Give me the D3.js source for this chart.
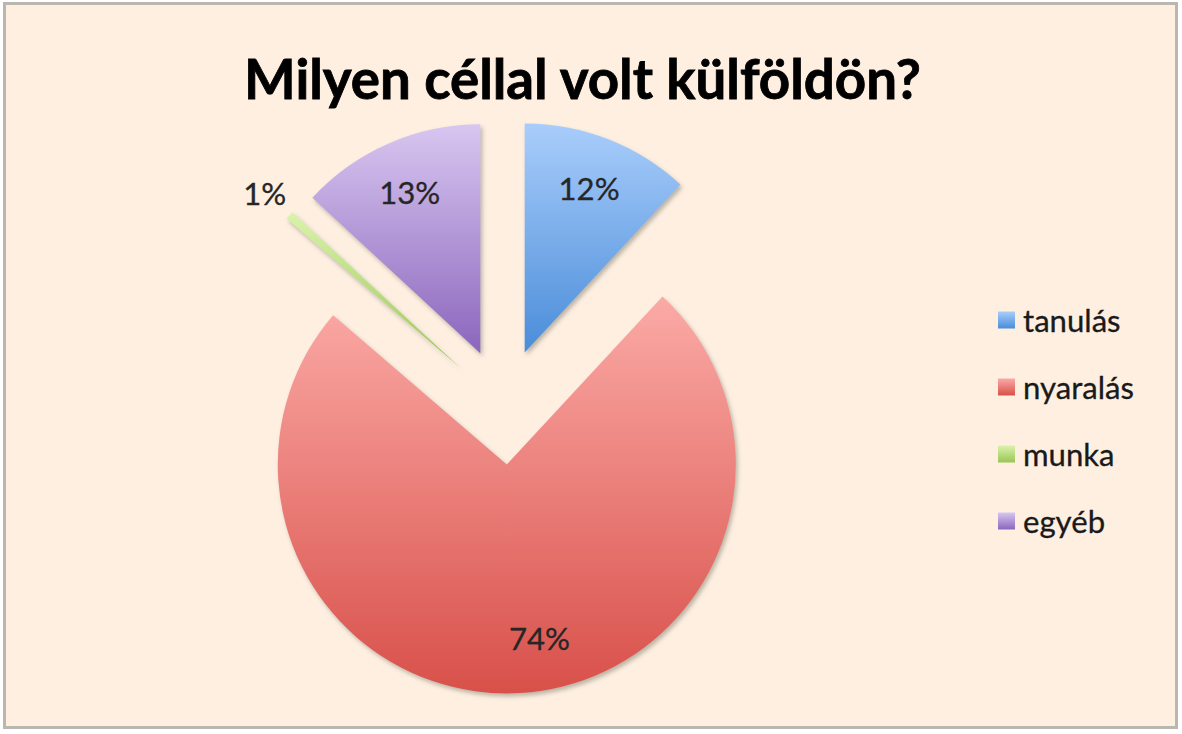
<!DOCTYPE html>
<html>
<head>
<meta charset="utf-8">
<script src="https://cdn.jsdelivr.net/npm/d3@7"></script>
<style>
  html, body { margin: 0; padding: 0; background: #ffffff; }
  svg { display: block; }
</style>
</head>
<body>
<svg id="chart" width="1182" height="734"></svg>
<script>
// ---- data ----
const title = "Milyen céllal volt külföldön?";
const categories = ["tanulás", "nyaralás", "munka", "egyéb"];
const values = [11.9, 74.4, 0.6, 13.1];
const gradTop = ["#A9CDFB", "#FBAAA6", "#DAF3AC", "#D8C6F0"];
const gradBottom = ["#4A8DD9", "#D8504A", "#98C654", "#8B66BD"];

// ---- layout ----
const W = 1182, H = 734;
const cx = 503.5, cy = 406.5, R = 229, explode = 58;
const font = "Lato, 'Open Sans', sans-serif";

const svg = d3.select("#chart");
const defs = svg.append("defs");

// background panel with border
svg.append("rect").attr("x", 0).attr("y", 0).attr("width", W).attr("height", H).attr("fill", "#ffffff");
svg.append("rect")
  .attr("x", 4.5).attr("y", 3.5).attr("width", 1172).attr("height", 724)
  .attr("fill", "#FEEFE1").attr("stroke", "#BAB6B0").attr("stroke-width", 3);

// drop shadow filter
const f = defs.append("filter").attr("id", "shadow")
  .attr("x", "-10%").attr("y", "-10%").attr("width", "130%").attr("height", "130%");
f.append("feDropShadow").attr("dx", 2).attr("dy", 3).attr("stdDeviation", 2)
  .attr("flood-color", "#6b6b5a").attr("flood-opacity", 0.45);

// gradients
categories.forEach((c, i) => {
  const g = defs.append("linearGradient").attr("id", "grad" + i)
    .attr("x1", 0).attr("y1", 0).attr("x2", 0).attr("y2", 1);
  g.append("stop").attr("offset", "0%").attr("stop-color", gradTop[i]);
  g.append("stop").attr("offset", "100%").attr("stop-color", gradBottom[i]);
});

// title, fitted to the reference width
const titleEl = svg.append("text")
  .attr("x", 582.5).attr("y", 99)
  .attr("text-anchor", "middle")
  .attr("font-family", font).attr("font-weight", 700)
  .attr("font-size", 50).attr("fill", "#000")
  .attr("stroke", "#000").attr("stroke-width", 0.8)
  .text(title);
{
  const w = titleEl.node().getComputedTextLength();
  titleEl.attr("font-size", 50 * 677 / w);
}

// pie
const total = d3.sum(values);
const pie = d3.pie().sort(null).value(d => d).startAngle(0).endAngle(2 * Math.PI);
const arcs = pie(values);
const arc = d3.arc().innerRadius(0).outerRadius(R);

const gPie = svg.append("g").attr("transform", `translate(${cx},${cy})`);
const slices = gPie.selectAll("g.slice").data(arcs).enter().append("g")
  .attr("class", "slice")
  .attr("transform", d => {
    const a = (d.startAngle + d.endAngle) / 2;
    return `translate(${explode * Math.sin(a)},${-explode * Math.cos(a)})`;
  });

slices.append("path")
  .attr("d", arc)
  .attr("fill", (d, i) => `url(#grad${i})`)
  .attr("filter", "url(#shadow)");

// data labels
const labelAngleNudge = [0, -0.13, 0, 0];
slices.append("text")
  .attr("class", "lbl")
  .attr("transform", (d, i) => {
    const a = (d.startAngle + d.endAngle) / 2 + labelAngleNudge[i];
    const small = (d.endAngle - d.startAngle) < 0.2;
    const r = small ? R + 33 : R * 0.77;
    return `translate(${r * Math.sin(a)},${-r * Math.cos(a)})`;
  })
  .attr("text-anchor", "middle")
  .attr("dominant-baseline", "central")
  .attr("font-family", font)
  .attr("font-size", 27)
  .attr("fill", "#262626")
  .attr("stroke", "#262626").attr("stroke-width", 0.3)
  .text(d => Math.round(d.value / total * 100) + "%");

// legend
const legend = svg.append("g").attr("transform", "translate(998,0)");
const ly = d3.scalePoint().domain(categories).range([320, 521]);
const items = legend.selectAll("g").data(categories).enter().append("g")
  .attr("transform", d => `translate(0,${ly(d)})`);
items.append("rect")
  .attr("x", 0).attr("y", -8.5).attr("width", 17).attr("height", 17)
  .attr("fill", (d, i) => `url(#grad${i})`);
const ltexts = items.append("text")
  .attr("x", 25).attr("y", 0)
  .attr("dominant-baseline", "central")
  .attr("font-family", font).attr("font-size", 27).attr("fill", "#1a1a1a")
  .attr("stroke", "#1a1a1a").attr("stroke-width", 0.3)
  .text(d => d);
{
  const w = ltexts.filter(d => d === "nyaralás").node().getComputedTextLength();
  const fs = 27 * 111 / w;
  ltexts.attr("font-size", fs);
  svg.selectAll("text.lbl").attr("font-size", fs);
}
</script>
</body>
</html>
